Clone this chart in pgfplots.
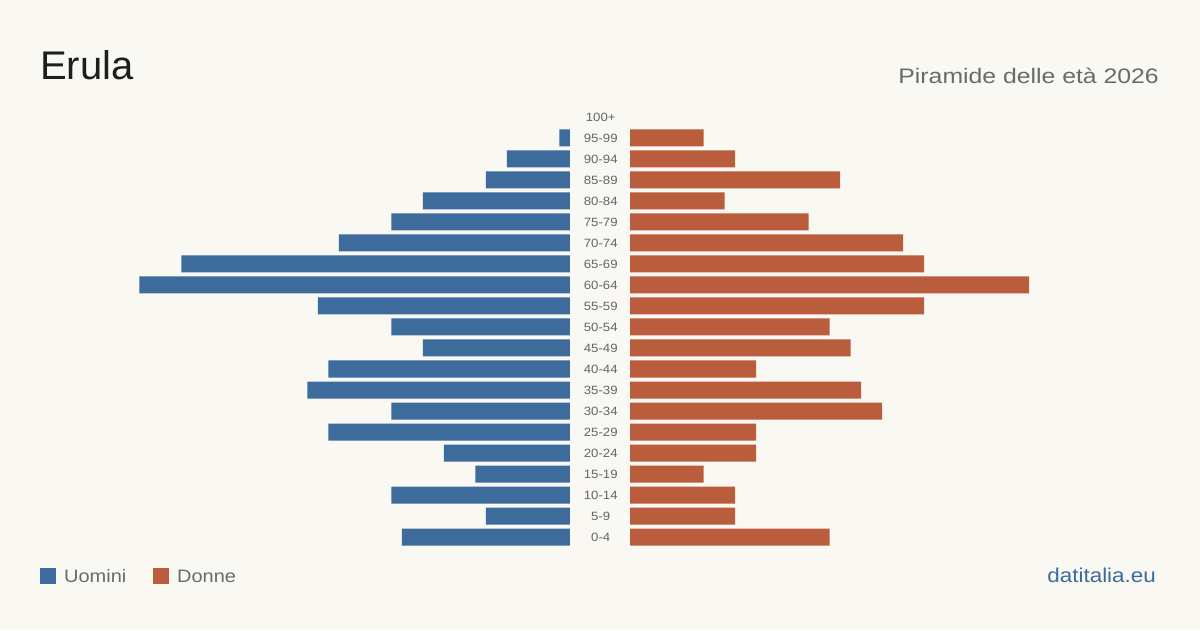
\documentclass[border=0pt]{standalone}
\usepackage{pgfplots}
\pgfplotsset{compat=1.18}
\usepackage{fontspec}
\setmainfont{Liberation Sans}
\newfontfamily\subfont[FakeStretch=1.18]{Liberation Sans}
\newfontfamily\legfont[FakeStretch=1.11]{Liberation Sans}
\newfontfamily\srcfont[FakeStretch=1.12]{Liberation Sans}
\newfontfamily\agefont[FakeStretch=1.1]{Liberation Sans}

\definecolor{bgc}{HTML}{F9F8F3}
\definecolor{mencol}{HTML}{3D6B9C}
\definecolor{womencol}{HTML}{B95D3C}
\definecolor{titlec}{HTML}{1E1E1E}
\definecolor{subc}{HTML}{6A6A6A}
\definecolor{agec}{HTML}{666666}

% Age classes: row 0 = 0-4 ... row 19 = 95-99 (100+ has no residents)
\pgfplotstableread{
row men women
0  16 19
1  8  10
2  17 10
3  9  7
4  12 12
5  23 12
6  17 24
7  25 22
8  23 12
9  14 21
10 17 19
11 24 28
12 41 38
13 37 28
14 22 26
15 17 17
16 14 9
17 8  20
18 6  10
19 1  7
}\pyramid

\pgfplotsset{
  pyr/.style={
    scale only axis,
    width=430.5pt, height=441pt,
    xmin=0, xmax=41,
    ymin=-0.5, ymax=20.5,
    xbar, bar width=17pt,
    axis line style={draw=none},
    tick style={draw=none},
    xtick=\empty,
    clip=false,
  }
}

\begin{document}
\begin{tikzpicture}
\fill[bgc] (0pt,0pt) rectangle (1200pt,630pt);

% men, growing to the left
\begin{axis}[pyr, x dir=reverse, at={(139.5pt,82.5pt)}, anchor=south west, ytick=\empty]
\addplot[fill=mencol, draw=none] table[x=men, y=row] {\pyramid};
\end{axis}

% women, growing to the right; age labels in the central gap
\begin{axis}[pyr, at={(630pt,82.5pt)}, anchor=south west,
  ytick={0,...,20},
  yticklabels={0-4,5-9,10-14,15-19,20-24,25-29,30-34,35-39,40-44,45-49,50-54,55-59,60-64,65-69,70-74,75-79,80-84,85-89,90-94,95-99,100+},
  yticklabel style={anchor=center, xshift=-25pt, inner sep=0pt, text=agec, font=\agefont\fontsize{12}{14}\selectfont},
]
\addplot[fill=womencol, draw=none] table[x=women, y=row] {\pyramid};
\end{axis}

% titles
\node[anchor=base west, inner sep=0pt, text=titlec, font=\fontsize{40}{48}\selectfont] at (40pt,550pt) {Erula};
\node[anchor=base east, inner sep=0pt, text=subc, font=\subfont\fontsize{21}{25}\selectfont] at (1159pt,546pt) {Piramide delle età 2026};

% legend
\fill[mencol] (40pt,46pt) rectangle (56pt,62pt);
\node[anchor=base west, inner sep=0pt, text=subc, font=\legfont\fontsize{18}{22}\selectfont] at (64pt,48pt) {Uomini};
\fill[womencol] (153pt,46pt) rectangle (169pt,62pt);
\node[anchor=base west, inner sep=0pt, text=subc, font=\legfont\fontsize{18}{22}\selectfont] at (177pt,48pt) {Donne};

% source
\node[anchor=base east, inner sep=0pt, text=mencol, font=\srcfont\fontsize{20}{24}\selectfont] at (1156pt,48pt) {datitalia.eu};

\pgfresetboundingbox
\useasboundingbox (0pt,0pt) rectangle (1200pt,630pt);
\end{tikzpicture}
\end{document}
